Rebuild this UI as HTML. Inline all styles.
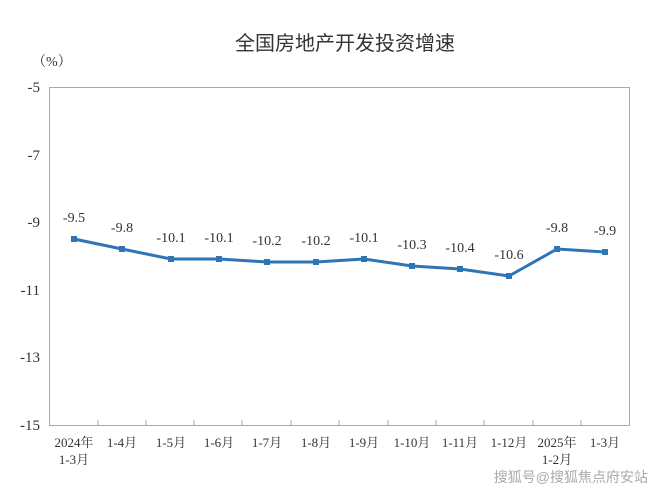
<!DOCTYPE html>
<html><head><meta charset="utf-8"><style>
body{margin:0;background:#fff;}
svg text{font-family:"Liberation Serif","Noto Serif CJK SC",serif;fill:#333;}
</style></head><body>
<svg width="660" height="495" viewBox="0 0 660 495" xmlns="http://www.w3.org/2000/svg">
<text x="345" y="50" text-anchor="middle" font-size="20" style="font-family:'Liberation Sans','Noto Sans CJK SC',sans-serif" fill="#222">全国房地产开发投资增速</text>
<text x="32" y="66" font-size="14">（%）</text>
<rect x="49.5" y="87.5" width="580" height="338" fill="none" stroke="#aaa" stroke-width="1"/>
<g font-size="15" text-anchor="end">
<text x="40" y="92">-5</text>
<text x="40" y="160">-7</text>
<text x="40" y="227">-9</text>
<text x="40" y="295">-11</text>
<text x="40" y="362">-13</text>
<text x="40" y="430">-15</text>
</g>
<g stroke="#aaa" stroke-width="1">
<line x1="98" y1="420" x2="98" y2="425"/><line x1="146" y1="420" x2="146" y2="425"/><line x1="194" y1="420" x2="194" y2="425"/><line x1="242" y1="420" x2="242" y2="425"/><line x1="291" y1="420" x2="291" y2="425"/><line x1="339" y1="420" x2="339" y2="425"/><line x1="388" y1="420" x2="388" y2="425"/><line x1="436" y1="420" x2="436" y2="425"/><line x1="484" y1="420" x2="484" y2="425"/><line x1="533" y1="420" x2="533" y2="425"/><line x1="581" y1="420" x2="581" y2="425"/>
</g>
<g font-size="13" text-anchor="middle">
<text x="74" y="447">2024年</text><text x="74" y="464">1-3月</text>
<text x="122" y="447">1-4月</text><text x="171" y="447">1-5月</text><text x="219" y="447">1-6月</text>
<text x="267" y="447">1-7月</text><text x="316" y="447">1-8月</text><text x="364" y="447">1-9月</text>
<text x="412" y="447">1-10月</text><text x="460" y="447">1-11月</text><text x="509" y="447">1-12月</text>
<text x="557" y="447">2025年</text><text x="557" y="464">1-2月</text>
<text x="605" y="447">1-3月</text>
</g>
<polyline fill="none" stroke="#2e75b6" stroke-width="3" points="74,239 122,249 171,259 219,259 267,262 316,262 364,259 412,266 460,269 509,276 557,249 605,252"/>
<g fill="#2e75b6">
<rect x="71" y="236" width="6" height="6"/><rect x="119" y="246" width="6" height="6"/><rect x="168" y="256" width="6" height="6"/><rect x="216" y="256" width="6" height="6"/><rect x="264" y="259" width="6" height="6"/><rect x="313" y="259" width="6" height="6"/><rect x="361" y="256" width="6" height="6"/><rect x="409" y="263" width="6" height="6"/><rect x="457" y="266" width="6" height="6"/><rect x="506" y="273" width="6" height="6"/><rect x="554" y="246" width="6" height="6"/><rect x="602" y="249" width="6" height="6"/>
</g>
<g font-size="14" text-anchor="middle">
<text x="74" y="222">-9.5</text><text x="122" y="232">-9.8</text><text x="171" y="242">-10.1</text><text x="219" y="242">-10.1</text>
<text x="267" y="245">-10.2</text><text x="316" y="245">-10.2</text><text x="364" y="242">-10.1</text><text x="412" y="249">-10.3</text>
<text x="460" y="252">-10.4</text><text x="509" y="259">-10.6</text><text x="557" y="232">-9.8</text><text x="605" y="235">-9.9</text>
</g>
<text x="648" y="482" text-anchor="end" font-size="14" fill="#999" style="font-family:'Liberation Sans','Noto Sans CJK SC',sans-serif;fill:#aaa">搜狐号@搜狐焦点府安站</text>
</svg>
</body></html>
